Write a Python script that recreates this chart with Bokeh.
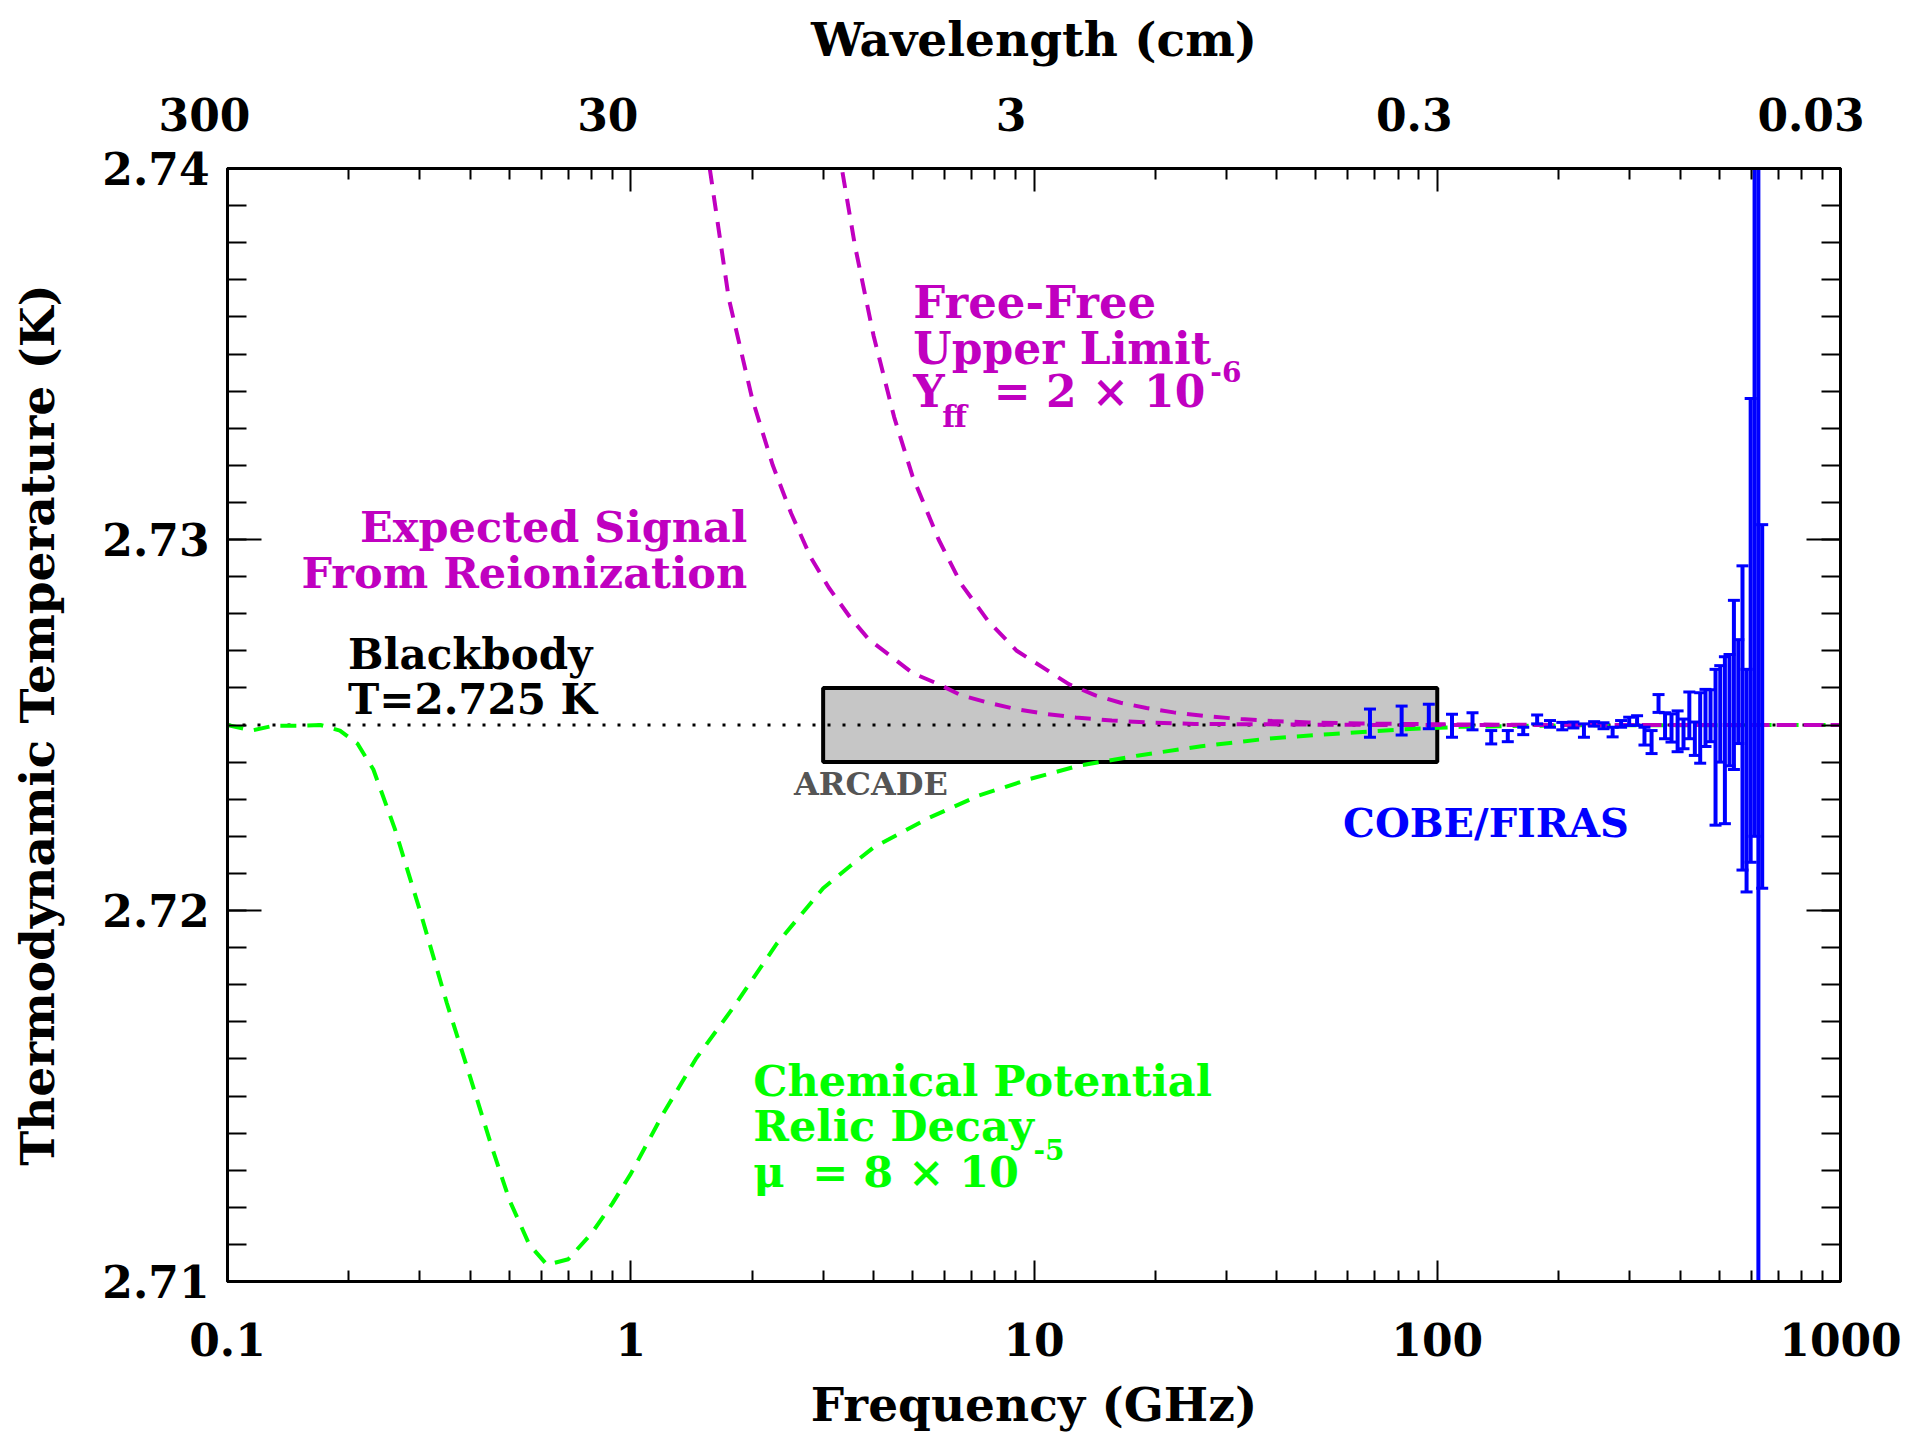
from bokeh.plotting import figure
from bokeh.models import Range1d, LogAxis, LinearAxis, FixedTicker
from bokeh.core.properties import value
from bokeh.embed import file_html
from bokeh.resources import INLINE

# ---------------- data ----------------
blackbody_T = 2.725
blackbody_nu = [0.1, 1000.0]

arcade_nu = [3.0, 100.0]
arcade_T = [2.724, 2.726]

# chemical potential distortion (green)
mu_nu = [0.1, 0.115, 0.13, 0.15, 0.17, 0.19, 0.21, 0.23, 0.26, 0.3, 0.35, 0.4, 0.45,
         0.5, 0.56, 0.62, 0.7, 0.8, 0.9, 1.0, 1.2, 1.45, 1.8, 2.3, 2.65, 3.0, 3.5, 4.0,
         5.5, 7.3, 9.8, 13.0, 18.2, 26.0, 37.8, 55.0, 81.0, 114.0, 200.0, 1000.0]
mu_T = [2.7250, 2.72485, 2.72498, 2.72498, 2.72500, 2.72485, 2.7245, 2.7238, 2.7222,
        2.7200, 2.7175, 2.7155, 2.7137, 2.7122, 2.7110, 2.71045, 2.7106, 2.7113, 2.7121,
        2.7129, 2.7145, 2.7160, 2.7174, 2.7191, 2.7199, 2.7206, 2.7212, 2.7217,
        2.7225, 2.7231, 2.72355, 2.72391, 2.72418, 2.72443, 2.72463, 2.72476, 2.72488,
        2.72495, 2.72499, 2.7250]

# expected signal from reionization (magenta, left)
reion_nu = [1.57, 1.75, 2.0, 2.25, 2.5, 2.8, 3.1, 3.5, 3.9, 4.3, 5.0, 5.8, 6.6, 7.7, 9.0,
            10.7, 12.7, 15.6, 19.0, 25.0, 35.0, 50.0, 80.0, 150.0, 400.0, 1000.0]
reion_T = [2.7400, 2.7365, 2.7338, 2.7320, 2.7307, 2.7295, 2.7287, 2.7279, 2.7273, 2.72695,
           2.7264, 2.7261, 2.7258, 2.7256, 2.72543, 2.7253, 2.7252, 2.72512, 2.72507,
           2.72503, 2.72502, 2.72501, 2.7250, 2.7250, 2.7250, 2.7250]

# free-free upper limit (magenta, right)
ff_nu = [3.35, 3.6, 4.0, 4.5, 5.0, 5.8, 6.6, 7.7, 9.06, 10.7, 12.2, 14.2, 16.4, 19.0, 22.2,
         26.6, 32.6, 39.0, 48.0, 65.0, 100.0, 200.0, 1000.0]
ff_T = [2.7399, 2.7379, 2.7355, 2.7333, 2.7317, 2.7300, 2.7288, 2.7278, 2.7270, 2.7265,
        2.7261, 2.7258, 2.7256, 2.72546, 2.72534, 2.72524, 2.72516, 2.72511, 2.72507,
        2.72504, 2.72502, 2.7250, 2.7250]

# COBE / FIRAS points (GHz, K, 1-sigma K)
firas_nu = [68.1, 81.6, 95.3, 108.8, 122.3, 136.1, 149.6, 163.4, 176.9, 190.4, 204.2,
            217.6, 231.1, 244.9, 258.4, 272.2, 285.7, 299.2, 313.0, 326.5, 340.0, 353.8,
            367.2, 381.0, 394.5, 408.0, 421.8, 435.3, 448.8, 462.6, 476.1, 489.9, 503.3,
            516.8, 530.6, 544.1, 557.9, 571.4, 584.9, 598.7, 612.2, 625.7, 639.5]
firas_T = [2.72505, 2.72512, 2.72523, 2.72498, 2.72510, 2.72467, 2.72470, 2.72484, 2.72515,
           2.72503, 2.72497, 2.72500, 2.72485, 2.72503, 2.72498, 2.72481, 2.72503, 2.72510,
           2.72512, 2.72470, 2.72454, 2.72558, 2.72498, 2.72492, 2.72483, 2.72476, 2.72526,
           2.72463, 2.72492, 2.72519, 2.72525, 2.72440, 2.72530, 2.72459, 2.72540, 2.72608,
           2.72590, 2.72519, 2.72350, 2.72755, 2.73100, 2.72500, 2.72550]
firas_err = [0.00038, 0.00039, 0.00033, 0.00031, 0.00023, 0.00018, 0.00015, 0.00010, 0.00012,
             0.00009, 0.00010, 0.00008, 0.00018, 0.00006, 0.00008, 0.00013, 0.00009, 0.00011,
             0.00013, 0.00024, 0.00031, 0.00024, 0.00035, 0.00038, 0.00055, 0.00040, 0.00063,
             0.00045, 0.00095, 0.00077, 0.00070, 0.00210, 0.00130, 0.00225, 0.00150, 0.00228,
             0.00140, 0.00410, 0.00300, 0.00625, 0.00900, 0.02000, 0.00490]

x_major = [0.1, 1.0, 10.0, 100.0, 1000.0]
x_labels = ["0.1", "1", "10", "100", "1000"]
wave_labels = ["300", "30", "3", "0.3", "0.03"]
y_major = [2.71, 2.72, 2.73, 2.74]
y_labels = ["2.71", "2.72", "2.73", "2.74"]

# ---------------- styling ----------------
FONT = "DejaVu Serif"
GREEN = "#00ff00"
MAGENTA = "#c000c0"
BLUE = "#0000ff"
NBSP = "\u00a0"

p = figure(width=1910, height=1435, x_axis_type="log",
           x_range=Range1d(0.1, 1000), y_range=Range1d(2.71, 2.74),
           output_backend="svg", toolbar_location=None,
           min_border_left=227, min_border_right=70, min_border_top=168,
           min_border_bottom=154, background_fill_color="white",
           border_fill_color="white")
p.grid.visible = False
p.outline_line_color = "black"
p.outline_line_width = 3

x_minor = [m * 10.0 ** e for e in range(-1, 3) for m in range(2, 10)]
y_minor = [round(2.71 + i * 0.001, 3) for i in range(31)]


def style_axis(ax, major_len, minor_len):
    ax.axis_line_width = 3
    ax.axis_line_color = "black"
    ax.major_tick_in = major_len
    ax.major_tick_out = 0
    ax.minor_tick_in = minor_len
    ax.minor_tick_out = 0
    ax.major_tick_line_width = 2
    ax.minor_tick_line_width = 2
    ax.major_label_text_font = FONT
    ax.major_label_text_font_style = "bold"
    ax.major_label_text_font_size = "44px"
    ax.major_label_text_color = "black"
    ax.axis_label_text_font = FONT
    ax.axis_label_text_font_style = "bold"
    ax.axis_label_text_font_size = "47px"
    ax.axis_label_text_color = "black"


xb = p.xaxis[0]
xb.ticker = FixedTicker(ticks=x_major, minor_ticks=x_minor)
xb.major_label_overrides = dict(zip(x_major, x_labels))
xb.axis_label = "Frequency (GHz)"
style_axis(xb, 21, 11)
xb.major_label_standoff = 41
xb.axis_label_standoff = 18

yl = p.yaxis[0]
yl.ticker = FixedTicker(ticks=y_major, minor_ticks=y_minor)
yl.major_label_overrides = dict(zip(y_major, y_labels))
yl.axis_label = "Thermodynamic Temperature (K)"
style_axis(yl, 34, 19)
yl.major_label_standoff = 18
yl.axis_label_standoff = 34

# top wavelength labels sit a little left of their ticks in the original
xt = LogAxis(ticker=FixedTicker(ticks=x_major, minor_ticks=x_minor),
             major_label_overrides={t: s + NBSP * 3 for t, s in zip(x_major, wave_labels)},
             axis_label="Wavelength (cm)")
style_axis(xt, 23, 11)
xt.major_label_standoff = 28
xt.axis_label_standoff = 20
p.add_layout(xt, "above")

yr = LinearAxis(ticker=FixedTicker(ticks=y_major, minor_ticks=y_minor),
                major_label_overrides={t: "" for t in y_major})
style_axis(yr, 34, 19)
yr.major_label_text_font_size = "0px"
yr.major_label_standoff = 0
p.add_layout(yr, "right")

# ---------------- glyphs ----------------
p.quad(left=[arcade_nu[0]], right=[arcade_nu[1]], bottom=[arcade_T[0]], top=[arcade_T[1]],
       fill_color="#c6c6c6", line_color="black", line_width=4)

p.line(x=blackbody_nu, y=[blackbody_T, blackbody_T], line_color="black",
       line_width=3, line_dash="3 12")

p.line(x=mu_nu, y=mu_T, line_color=GREEN, line_width=4, line_dash="16 11")
p.line(x=reion_nu, y=reion_T, line_color=MAGENTA, line_width=4, line_dash="16 11")
p.line(x=ff_nu, y=ff_T, line_color=MAGENTA, line_width=4, line_dash="16 11")

f_lo = [t - e for t, e in zip(firas_T, firas_err)]
f_hi = [t + e for t, e in zip(firas_T, firas_err)]
p.segment(x0=firas_nu, y0=f_lo, x1=firas_nu, y1=f_hi, line_color=BLUE, line_width=4)
p.scatter(x=firas_nu, y=f_hi, marker="dash", size=12, line_color=BLUE, line_width=3)
p.scatter(x=firas_nu, y=f_lo, marker="dash", size=12, line_color=BLUE, line_width=3)


# ---------------- annotations ----------------
def label(x, y, text, color, size, align="left"):
    p.text(x=[x], y=[y], text=[text], text_color=color, text_font=value(FONT),
           text_font_size=f"{size}px", text_font_style="bold", text_align=align,
           text_baseline="alphabetic", y_offset=-16)


label(1.945, 2.729897, "Expected Signal", MAGENTA, 43, "right")
label(1.945, 2.728676, "From Reionization", MAGENTA, 43, "right")

label(5.02, 2.735951, "Free-Free", MAGENTA, 45)
label(5.02, 2.734711, "Upper Limit", MAGENTA, 44)
label(5.02, 2.733569, "Y", MAGENTA, 44)
label(5.922, 2.732895, "ff", MAGENTA, 30)
label(7.948, 2.733569, "= 2 × 10", MAGENTA, 44)
label(27.37, 2.734108, "-6", MAGENTA, 28)

label(0.199, 2.726475, "Blackbody", "black", 42)
label(0.199, 2.725263, "T=2.725 K", "black", 42)

label(2.54, 2.722973, "ARCADE", "#555555", 32)
label(58.4, 2.721949, "COBE/FIRAS", BLUE, 40)

label(2.013, 2.714979, "Chemical Potential", GREEN, 43)
label(2.013, 2.713767, "Relic Decay", GREEN, 43)
label(2.013, 2.712511, "μ", GREEN, 43)
label(2.819, 2.712511, "= 8 × 10", GREEN, 43)
label(9.968, 2.713139, "-5", GREEN, 28)

open("out.html", "w").write(file_html(p, INLINE))
